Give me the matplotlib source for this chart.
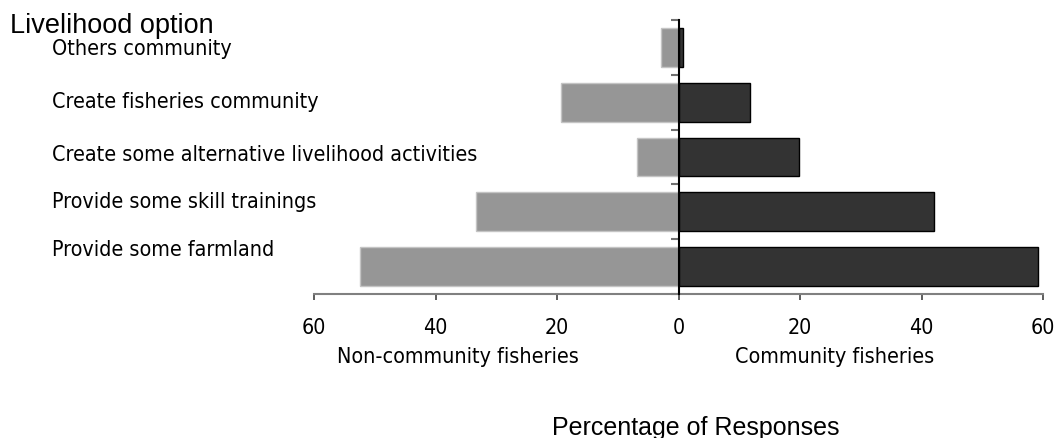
import matplotlib
matplotlib.use('agg')
import matplotlib.pyplot as plt
from matplotlib.ticker import FuncFormatter

# data (top to bottom)
options = ["Others community", "Create fisheries community",
           "Create some alternative livelihood activities",
           "Provide some skill trainings", "Provide some farmland"]
non_community = [2.8, 19.3, 6.8, 33.3, 52.5]
community = [0.7, 11.7, 19.8, 42.0, 59.1]
x_ticks = [-60, -40, -20, 0, 20, 40, 60]

W, H = 1055, 438
fig = plt.figure(figsize=(W / 100, H / 100), dpi=100)

# axes box in pixels: left, right, top, bottom
L, R, T, B = 314, 1043, 20, 294
ax = fig.add_axes([L / W, 1 - B / H, (R - L) / W, (B - T) / H])

tahoma = dict(family="DejaVu Sans", stretch="condensed", size=15.4)

y = list(range(len(options)))
ax.barh(y, [-v for v in non_community], height=0.71, color="#969696",
        edgecolor="#c4c4c4", linewidth=1.0, zorder=2)
ax.barh(y, community, height=0.71, color="#333333",
        edgecolor="#000000", linewidth=1.0, zorder=2)

ax.set_xlim(-60, 60)
ax.set_ylim(len(options) - 0.5, -0.5)

ax.spines["top"].set_visible(False)
ax.spines["right"].set_visible(False)
ax.spines["left"].set_position(("data", 0))
ax.spines["left"].set_color("black")
ax.spines["left"].set_linewidth(1.5)
ax.spines["left"].set_zorder(3)
ax.spines["bottom"].set_color("#808080")
ax.spines["bottom"].set_linewidth(1.5)

ax.set_xticks(x_ticks)
ax.xaxis.set_major_formatter(FuncFormatter(lambda v, p: "%d" % abs(v)))
ax.tick_params(axis="x", direction="out", length=4.5, width=1.3,
               color="#505050", pad=13)
for lab in ax.get_xticklabels():
    lab.set_fontproperties(matplotlib.font_manager.FontProperties(**tahoma))

ax.set_yticks([i - 0.5 for i in range(len(options) + 1)])
ax.set_yticklabels([])
ax.tick_params(axis="y", direction="out", length=6, width=1.5, color="#707070")

# category labels (spaced independently of the bars, as in the original)
label_base_px = [55, 108, 161, 208, 256]
for name, yp in zip(options, label_base_px):
    fig.text(52 / W, 1 - yp / H, name, ha="left", va="baseline", **tahoma)

fig.text(10 / W, 1 - 33 / H, "Livelihood option", ha="left", va="baseline",
         family="Liberation Sans", size=19.5)
fig.text(458 / W, 1 - 363 / H, "Non-community fisheries", ha="center",
         va="baseline", **tahoma)
fig.text(835 / W, 1 - 363 / H, "Community fisheries", ha="center",
         va="baseline", **tahoma)
fig.text(696 / W, 1 - 435 / H, "Percentage of Responses", ha="center",
         va="baseline", family="Liberation Sans", size=18)

fig.savefig("out.png", dpi=100)
